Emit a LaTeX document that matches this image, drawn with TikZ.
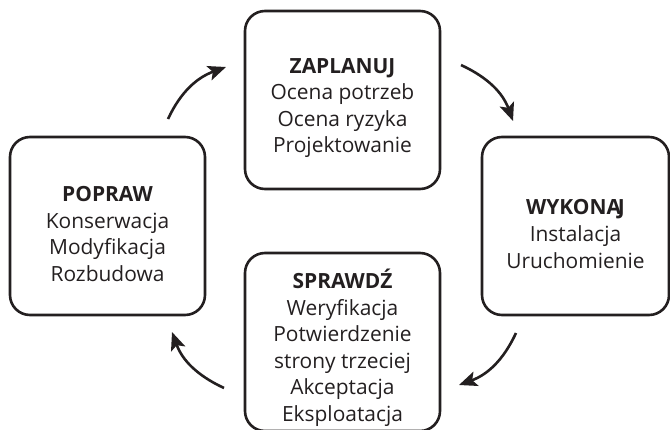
\documentclass[tikz,border=0pt]{standalone}
\usepackage{fontspec}
\setmainfont{Open Sans}
\usetikzlibrary{positioning}
\usetikzlibrary{arrows.meta}
\definecolor{ink}{HTML}{231F20}
\newcommand{\stagetitle}[1]{\rule{0pt}{31bp}\textbf{#1}}

\begin{document}
\begin{tikzpicture}[x=1bp, y=1bp,
                    stagenode/.style={draw=ink, line width=2.6bp, rounded corners=20bp, minimum width=195bp, minimum height=178bp,
                                      align=center, text=ink, font=\fontsize{21}{26.7}\selectfont},
                    cyclearrow/.style={-{Stealth[length=18bp, width=15bp, inset=4bp]}, line width=2.6bp, draw=ink}
                   ]
\useasboundingbox (0,0) rectangle (670,429);
%Nodes
\node[stagenode]                      (plan)  at (342.5,329) {\stagetitle{ZAPLANUJ}\\Ocena potrzeb\\Ocena ryzyka\\Projektowanie};
\node[stagenode, minimum width=187bp] (exec)  at (575.5,203) {\stagetitle{WYKONA\kern-3bp J}\\Instalacja\\Uruchomienie};
\node[stagenode]                      (check) at (342.5,87)  {\stagetitle{SPRAWDŹ}\\Weryfikacja\\Potwierdzenie\\strony trzeciej\\Akceptacja\\Eksploatacja};
\node[stagenode]                      (fix)   at (107.5,203) {\stagetitle{POPRAW}\\Konserwacja\\Modyfikacja\\Rozbudowa};
%Arrow ends
\coordinate (fixout)   at (168,310);
\coordinate (planin)   at (226,362);
\coordinate (planout)  at (461,364);
\coordinate (execin)   at (513,308);
\coordinate (execout)  at (516,96);
\coordinate (checkin)  at (459,44);
\coordinate (checkout) at (224,41);
\coordinate (fixin)    at (172,97);
% %Arrows
\draw[cyclearrow] (fixout)   to[out=65,   in=200] (planin);
\draw[cyclearrow] (planout)  to[out=-25,  in=110] (execin);
\draw[cyclearrow] (execout)  to[out=-115, in=20]  (checkin);
\draw[cyclearrow] (checkout) to[out=155,  in=-70] (fixin);
\end{tikzpicture}
\end{document}
